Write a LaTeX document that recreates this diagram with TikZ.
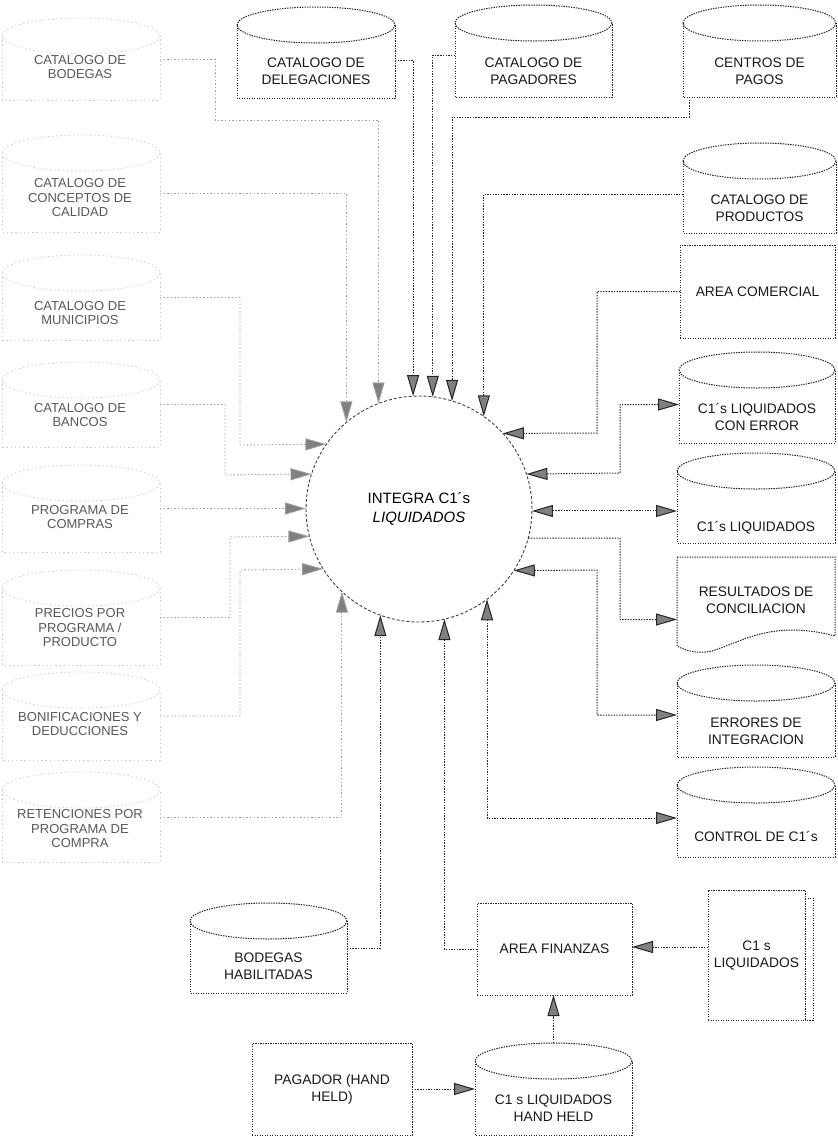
\documentclass[tikz,border=0pt]{standalone}
\usepackage{fontspec}
\setmainfont{Liberation Sans}
\usetikzlibrary{arrows.meta}
\tikzset{
  boxline/.style={draw=black!85, line width=1pt, dash pattern=on 1.4pt off 1.1pt},
  fadeline/.style={draw=black!20, line width=0.8pt, dash pattern=on 1.4pt off 2.8pt},
  flow/.style={draw=black!85, line width=1pt, dash pattern=on 1.4pt off 1.3pt},
  fadeflow/.style={draw=black!38, line width=0.9pt, dash pattern=on 1.4pt off 2.2pt},
  lbl/.style={font=\fontsize{13.8}{17}\selectfont, align=center, inner sep=0pt, text=black!90},
  llbl/.style={font=\fontsize{13}{14.5}\selectfont, align=center, inner sep=0pt, text=black!65},
  rectbox/.style={boxline, rectangle, inner sep=0pt, outer sep=0pt, lbl},
}
% cylinder: [style]{name}{x1}{y1}{x2}{y2}{text y}{text}
\newcommand\dbcyl[8][boxline]{%
  \draw[#1] (#3,#4+18) -- (#3,#6) -- (#5,#6) -- (#5,#4+18);
  \draw[#1] ({(#3+#5)/2},#4+18) ellipse [x radius={(#5-#3)/2}, y radius=18];
  \node[inner sep=0pt, outer sep=0pt, minimum width={(#5-#3)*1pt}, minimum height={(#6-#4)*1pt}] (#2) at ({(#3+#5)/2},{(#4+#6)/2}) {};
  \node[lbl] at ({(#3+#5)/2},#7) {#8};
}
% faded left cylinder: {name}{y1}{y2}{text y}{text}
\newcommand\leftcyl[5]{%
  \draw[fadeline] (2,#2+18) -- (2,#3) -- (160,#3) -- (160,#2+18);
  \draw[fadeline] (81,#2+18) ellipse [x radius=79, y radius=18];
  \node[inner sep=0pt, outer sep=0pt, minimum width=158pt, minimum height={(#3-#2)*1pt}] (#1) at (81,{(#2+#3)/2}) {};
  \node[llbl] at (80,#4) {#5};
}
\begin{document}
\begin{tikzpicture}[x=1pt, y=-1pt, >={Triangle[length=21pt,width=12pt,fill=black!50]}]
\fill[white] (0,0) rectangle (838,1138);
\useasboundingbox (0,0) rectangle (838,1138);

% central process
\node[circle, draw=black!75, line width=0.9pt, dash pattern=on 3pt off 2pt,
      minimum size=226pt, inner sep=0pt, outer sep=0pt,
      font=\fontsize{15}{19}\selectfont, align=center] (circ) at (419,509)
      {INTEGRA C1´s\\\textit{LIQUIDADOS}};

% left column (faded)
\leftcyl{lb}{18}{100}{67}{CATALOGO DE\\BODEGAS}
\leftcyl{lc}{135}{232}{198}{CATALOGO DE\\CONCEPTOS DE\\CALIDAD}
\leftcyl{lm}{255}{340}{313}{CATALOGO DE\\MUNICIPIOS}
\leftcyl{lbn}{362}{447}{415}{CATALOGO DE\\BANCOS}
\leftcyl{lp}{465}{552}{517}{PROGRAMA DE\\COMPRAS}
\leftcyl{lpr}{570}{665}{628}{PRECIOS POR\\PROGRAMA /\\PRODUCTO}
\leftcyl{lbo}{672}{760}{724}{BONIFICACIONES Y\\DEDUCCIONES}
\leftcyl{lr}{772}{862}{829}{RETENCIONES POR\\PROGRAMA DE\\COMPRA}

% top row
\dbcyl{del}{237}{7}{395}{98}{71}{CATALOGO DE\\DELEGACIONES}
\dbcyl{pgd}{455}{5}{612}{97}{71}{CATALOGO DE\\PAGADORES}
\dbcyl{cen}{683}{5}{836}{97}{71}{CENTROS DE\\PAGOS}

% right column
\dbcyl{prod}{683}{143}{836}{233}{208}{CATALOGO DE\\PRODUCTOS}
\node[rectbox, minimum width=155pt, minimum height=93pt] (ac) at (757.5,291.5) {AREA COMERCIAL};
\dbcyl{ce}{679}{352}{835}{443}{417}{C1´s LIQUIDADOS\\CON ERROR}
\dbcyl{cl}{677}{453}{835}{543}{528}{C1´s LIQUIDADOS}
\draw[boxline] (677,557) -- (835,557) -- (835,636)
  .. controls (775,620) and (745,640) .. (715,650)
  .. controls (700,655) and (686,651) .. (677,646) -- cycle;
\node[inner sep=0pt, outer sep=0pt, minimum width=158pt, minimum height=93pt] (res) at (756,603.5) {};
\node[lbl] at (756,600) {RESULTADOS DE\\CONCILIACION};
\dbcyl{err}{677}{665}{835}{757}{731}{ERRORES DE\\INTEGRACION}
\dbcyl{ctl}{677}{767}{835}{857}{836}{CONTROL DE C1´s}

% bottom
\node[rectbox, minimum width=97pt, minimum height=130pt] (doc) at (756.5,955) {C1 s\\LIQUIDADOS};
\draw[boxline] ([yshift=-8pt]doc.north east) -- ++(8,0) -- ([xshift=8pt]doc.south east) -- (doc.south east);
\node[rectbox, minimum width=155pt, minimum height=92pt] (fin) at (554.5,949) {AREA FINANZAS};
\dbcyl{bh}{190}{903}{347}{993}{966}{BODEGAS\\HABILITADAS}
\node[rectbox, minimum width=160pt, minimum height=92pt] (pag) at (332,1089) {PAGADOR (HAND\\HELD)};
\dbcyl{hh}{475}{1043}{632}{1135}{1108}{C1 s LIQUIDADOS\\HAND HELD}

% connectors from the left (faded)
\draw[fadeflow,->] (lb.east) -| (215,120) -| (circ.111.3);
\draw[fadeflow,->] ([yshift=-10pt]lc.east) -| (circ.130.9);
\draw[fadeflow,->] (lm.east) -| (240,445) -- (circ.145.5);
\draw[fadeflow,->] (lbn.east) -| (225,475) -- (circ.162.5);
\draw[fadeflow,->] (lp.east) -- (lp.east -| circ.west);
\draw[fadeflow,->] (lpr.east) -| (230,537) -- (circ.194.35);
\draw[fadeflow,->] (lbo.east) -| (240,570) -- (circ.212.7);
\draw[fadeflow,->] (lr.east) -| (circ.227.7);

% top connectors
\draw[flow,->] ([yshift=-8pt]del.east) -| (circ.93.55);
\draw[flow,->] ([yshift=-4pt]pgd.west) -| (circ.83.4);
\draw[flow,->] ([xshift=6pt]cen.south west) -- ++(0,20) -| (circ.73);
\draw[flow,->] ([yshift=-6pt]prod.west) -| (circ.55.5);
\draw[flow,->] (ac.west) -| (597,433) -- (circ.42.3);

% right connectors
\draw[flow,<->] (circ.18.6) -- (620,473) |- ([yshift=-7pt]ce.west);
\draw[flow,<->] (circ.359.5) -- (circ.359.5 -| cl.west);
\draw[flow,->] (circ.345.1) -- (620,538) |- ([yshift=-16pt]res.west);
\draw[flow,<->] (circ.327.3) -- (597,570) |- ([yshift=-4pt]err.west);
\draw[flow,<->] (circ.307.6) |- ([yshift=-6pt]ctl.west);

% bottom connectors
\draw[flow,->] (bh.east) -| (circ.250.9);
\draw[flow,->] (fin.west) -| (circ.283.3);
\draw[flow,->] ([yshift=8pt]doc.west) -- ([yshift=8pt]doc.west -| fin.east);
\draw[flow,->] (hh.north) -- (hh.north |- fin.south);
\draw[flow,->] (pag.east) -- (pag.east -| hh.west);
\end{tikzpicture}
\end{document}
